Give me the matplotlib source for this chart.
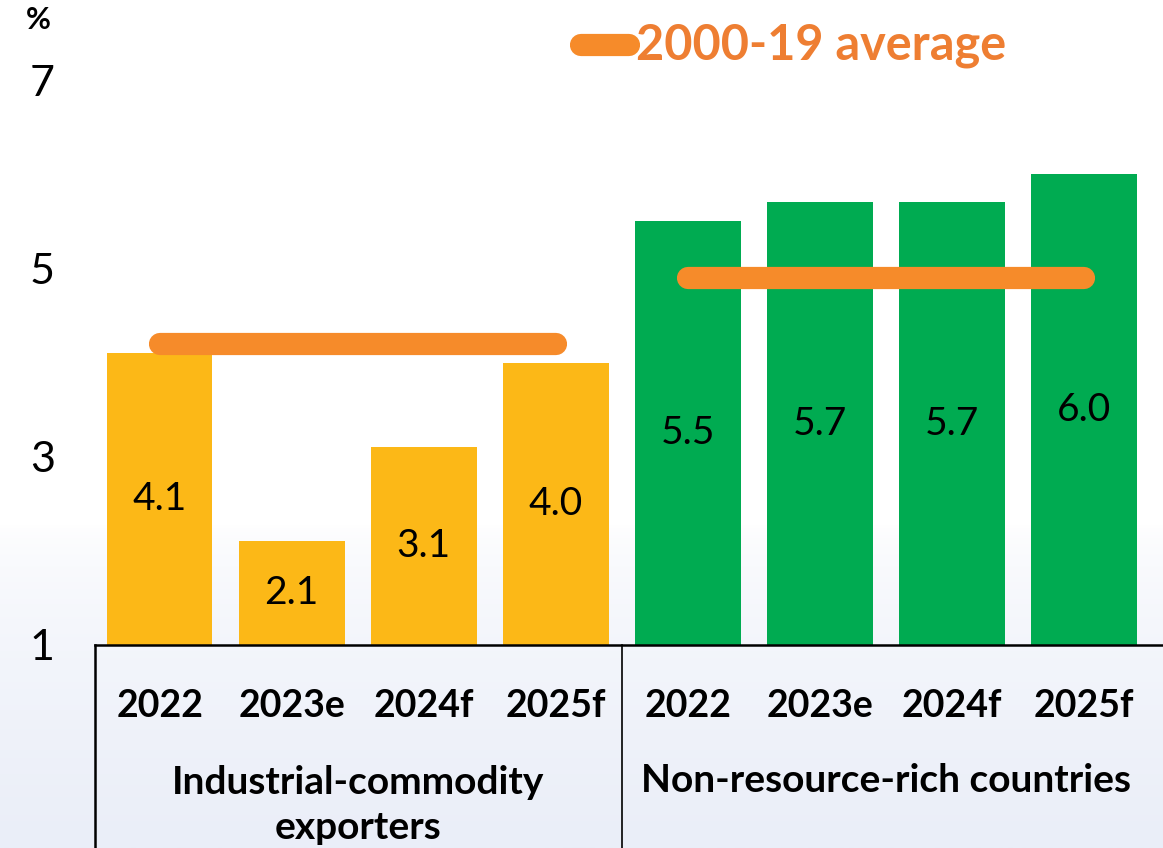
import numpy as np
import matplotlib.pyplot as plt
from matplotlib.lines import Line2D
from matplotlib.colors import LinearSegmentedColormap
import matplotlib.transforms as mtransforms

plt.rcParams['font.family'] = ['Lato', 'DejaVu Sans']

# ------------------------------------------------------------------
# Data
# ------------------------------------------------------------------
years = ["2022", "2023e", "2024f", "2025f"]
groups = ["Industrial-commodity\nexporters", "Non-resource-rich countries"]
industrial = [4.1, 2.1, 3.1, 4.0]
non_resource = [5.5, 5.7, 5.7, 6.0]
avg_2000_19 = [4.2, 4.9]          # one per group
y_ticks = [1, 3, 5, 7]

YELLOW = "#FCB817"
GREEN = "#00AB51"
ORANGE = "#F68B2A"
ORANGE_TXT = "#EE7E32"

W, H = 1163, 848
fig = plt.figure(figsize=(W / 100, H / 100), dpi=100)

# faint bluish background towards the bottom
bg = fig.add_axes([0, 0, 1, 1], zorder=-10)
g = np.clip((np.linspace(0, 1, 400) - 0.62) / 0.38, 0, 1) ** 0.6
cmap = LinearSegmentedColormap.from_list("bg", ["#FFFFFF", "#EAEEF8"])
bg.imshow(g[:, None], aspect="auto", cmap=cmap, extent=[0, 1, 0, 1], origin="upper")
bg.axis("off")

# main axes, placed in pixel coords of the reference
left, right, y1_px, y7_px = 95, 1163, 645, 80
ax = fig.add_axes([left / W, (H - y1_px) / H, (right - left) / W, (y1_px - y7_px) / H])
ax.patch.set_alpha(0)

x = np.arange(8)
vals = industrial + non_resource
colors = [YELLOW] * 4 + [GREEN] * 4
bars = ax.bar(x, np.array(vals) - 1, bottom=1, width=0.8, color=colors, zorder=2)
ax.bar_label(bars, labels=[f"{v:.1f}" for v in vals], label_type="center",
             fontsize=28, color="black")

# 2000-19 average lines
for i, a in enumerate(avg_2000_19):
    ax.plot([4 * i, 4 * i + 3], [a, a], color=ORANGE, lw=16,
            solid_capstyle="round", zorder=3)

ax.set_xlim(-0.49, 7.6)
ax.set_ylim(1, 7)
for s in ["left", "right", "top"]:
    ax.spines[s].set_visible(False)
ax.spines["bottom"].set_linewidth(1.8)
ax.spines["bottom"].set_zorder(4)

ax.set_yticks(y_ticks)
ax.set_yticklabels([str(t) for t in y_ticks], fontsize=31)
ax.tick_params(axis="y", length=0, pad=29)

ax.set_xticks(x)
ax.set_xticklabels(years * 2, fontsize=27, fontweight="bold")
ax.tick_params(axis="x", length=0, pad=32)

# box lines under the axis
trans = mtransforms.blended_transform_factory(ax.transData, fig.transFigure)
ax.add_line(Line2D([-0.49, -0.49], [0, (H - y1_px) / H], transform=trans,
                   color="black", lw=1.8, clip_on=False))
ax.add_line(Line2D([3.5, 3.5], [0, (H - y1_px) / H], transform=trans,
                   color="black", lw=1.2, clip_on=False))

# group labels
ax.text(1.5, (H - 805) / H, groups[0], transform=trans, ha="center", va="center",
        fontsize=28, fontweight="bold", linespacing=1.35)
ax.text(5.5, (H - 780) / H, groups[1], transform=trans, ha="center", va="center",
        fontsize=28, fontweight="bold")

# unit label
fig.text(38 / W, (H - 20) / H, "%", ha="center", va="center",
         fontsize=22, fontweight="bold")

# legend
fig.add_artist(Line2D([581 / W, 629 / W], [(H - 45) / H] * 2, color=ORANGE, lw=16,
                      solid_capstyle="round"))
fig.text(636 / W, (H - 45) / H, "2000-19 average", ha="left", va="center",
         fontsize=35, fontweight="bold", color=ORANGE_TXT)

fig.savefig("out.png", dpi=100)
